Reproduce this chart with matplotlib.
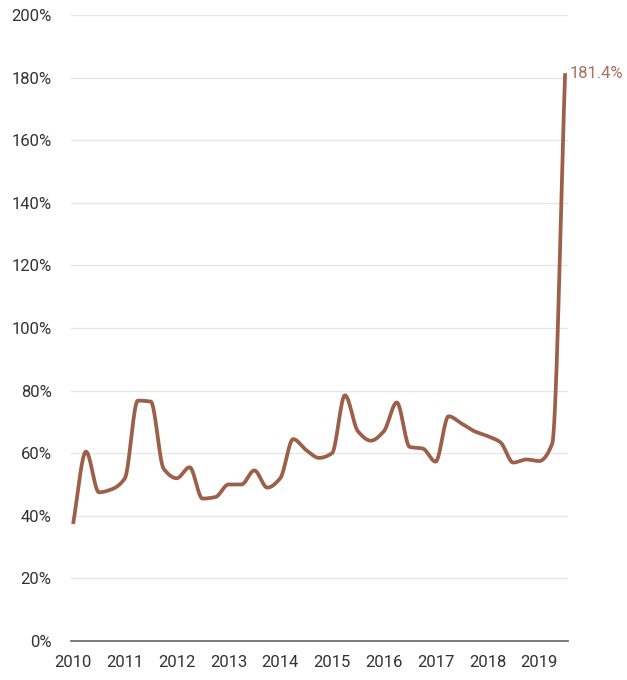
import numpy as np
import matplotlib.pyplot as plt
from matplotlib import font_manager

# quarterly ratio, 2010 Q1 .. 2019 Q3
quarters = np.arange(2010, 2019.51, 0.25)
ratio = [37.4, 60.5, 47.5, 48.5, 52, 76.8, 76.5, 55, 52, 55.5, 45.5, 46,
         50, 50, 54.5, 49, 52, 64.5, 61, 58.5, 60, 78.5, 67, 64,
         67, 76.2, 62, 61.5, 57.3, 71.8, 69.5, 67, 65.5, 63.5, 57, 58,
         57.5, 63, 181.4]
year_ticks = list(range(2010, 2020))
y_ticks = list(range(0, 201, 20))

line_color = "#9C5F48"
label_color = "#A8715B"
text_color = "#333333"


def monotone_spline(x, y, n=30):
    # Fritsch-Carlson monotone cubic interpolation
    x = np.asarray(x, float)
    y = np.asarray(y, float)
    h = np.diff(x)
    d = np.diff(y) / h
    m = np.zeros_like(y)
    m[0], m[-1] = d[0], d[-1]
    for i in range(1, len(y) - 1):
        if d[i - 1] * d[i] <= 0:
            m[i] = 0
        else:
            w1 = 2 * h[i] + h[i - 1]
            w2 = h[i] + 2 * h[i - 1]
            m[i] = (w1 + w2) / (w1 / d[i - 1] + w2 / d[i])
    xs, ys = [], []
    for i in range(len(x) - 1):
        t = np.linspace(0, 1, n, endpoint=False)
        h00 = 2 * t**3 - 3 * t**2 + 1
        h10 = t**3 - 2 * t**2 + t
        h01 = -2 * t**3 + 3 * t**2
        h11 = t**3 - t**2
        xs.append(x[i] + t * h[i])
        ys.append(h00 * y[i] + h10 * h[i] * m[i] + h01 * y[i + 1] + h11 * h[i] * m[i + 1])
    xs.append([x[-1]])
    ys.append([y[-1]])
    return np.concatenate(xs), np.concatenate(ys)


names = {f.name for f in font_manager.fontManager.ttflist}
family = "Liberation Sans Narrow" if "Liberation Sans Narrow" in names else "Roboto"
plt.rcParams["font.family"] = [family, "DejaVu Sans"]
fs = 12

fig = plt.figure(figsize=(6.27, 6.8), dpi=100)
ax = fig.add_axes([71 / 627, 39 / 680, 497 / 627, 626 / 680])

sx, sy = monotone_spline(quarters, ratio)
ax.plot(sx, sy, color=line_color, lw=2.7, solid_capstyle="butt", zorder=3)

ax.set_ylim(0, 200)
ax.set_xlim(2009.96, 2019.556)
ax.set_yticks(y_ticks)
ax.set_yticklabels([f"{v}%" for v in y_ticks])
ax.set_xticks(year_ticks)
ax.set_xticklabels([str(y) for y in year_ticks])
ax.grid(axis="y", color="#e6e6e6", lw=1)
ax.set_axisbelow(True)

for side in ["top", "right", "left"]:
    ax.spines[side].set_visible(False)
ax.spines["bottom"].set_color("#666666")
ax.spines["bottom"].set_linewidth(1.2)

ax.tick_params(axis="both", length=0, labelsize=fs, colors=text_color)
ax.tick_params(axis="y", pad=14)
ax.tick_params(axis="x", pad=10)

ax.annotate(f"{ratio[-1]}%", (quarters[-1], ratio[-1]), xytext=(3.5, 0),
            textcoords="offset points", va="center", ha="left",
            fontsize=fs, color=label_color, annotation_clip=False)

fig.savefig("out.png", dpi=100)
